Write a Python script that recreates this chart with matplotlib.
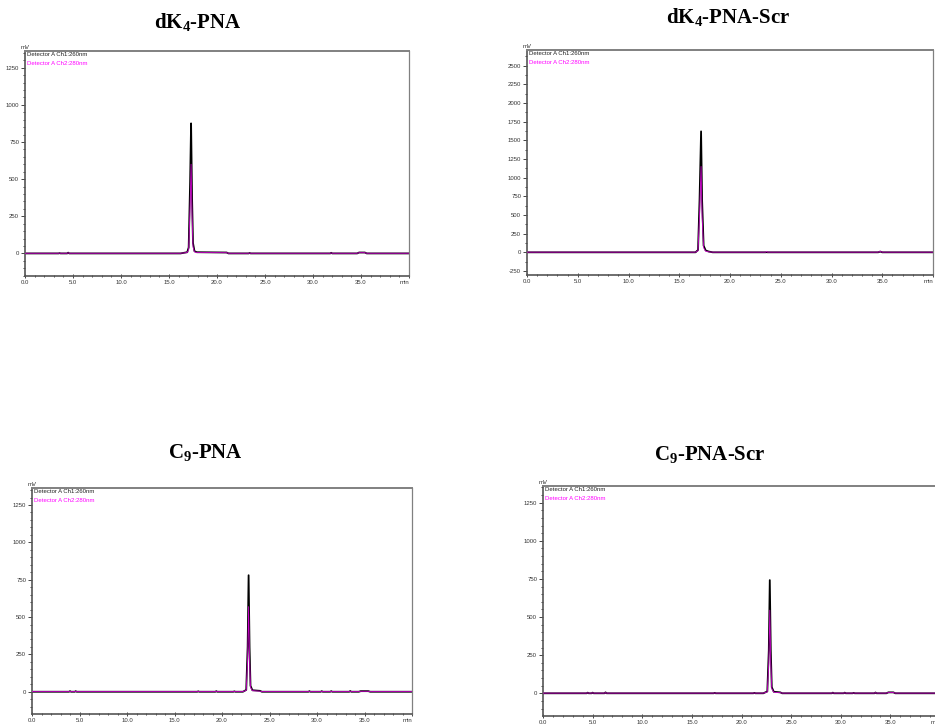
import numpy as np
import matplotlib
matplotlib.use("Agg")
import matplotlib.pyplot as plt
from matplotlib.ticker import MultipleLocator, FixedLocator, FixedFormatter

plt.rcParams['font.family'] = ['Liberation Sans', 'DejaVu Sans']

# ─── Data (time in min, signal in mV) ────────────────────────────────────────
titles = ["dK$_\\mathdefault{4}$-PNA", "dK$_\\mathdefault{4}$-PNA-Scr",
          "C$_\\mathdefault{9}$-PNA", "C$_\\mathdefault{9}$-PNA-Scr"]

# dK4-PNA
t_a   = [0, 3.5, 3.6, 3.7, 4.4, 4.5, 4.6, 16.2, 16.9, 17.05, 17.2, 17.3, 17.4, 17.5, 17.65, 17.9,
         21.0, 21.2, 23.3, 23.4, 23.5, 31.8, 31.9, 32.0, 34.6, 34.8, 35.4, 35.6, 40]
ch1_a = [0, 0, 2, 0, 0, 5, 0, 0, 8, 40, 480, 875, 380, 70, 15, 8,
         6, 0, 0, 3, 0, 0, 4, 0, 0, 6, 6, 0, 0]
ch2_a = [1, 1, 2, 1, 1, 4, 1, 1, 6, 25, 320, 600, 260, 45, 10, 6,
         5, 1, 1, 2, 1, 1, 3, 1, 1, 5, 5, 1, 1]

# dK4-PNA-Scr
t_b   = [0, 16.6, 16.85, 17.0, 17.15, 17.25, 17.4, 17.6, 17.9, 18.3, 23.5, 23.6, 23.7,
         34.6, 34.8, 35.0, 40]
ch1_b = [0, 0, 30, 700, 1620, 700, 90, 25, 10, 0, 0, 2, 0,
         0, 10, 0, 0]
ch2_b = [2, 2, 20, 500, 1150, 480, 60, 15, 6, 2, 2, 12, 2,
         2, 12, 2, 2]

# C9-PNA
t_c   = [0, 3.9, 4.0, 4.1, 4.5, 4.6, 4.7, 17.4, 17.5, 17.6, 19.3, 19.4, 19.5, 21.2, 21.3, 21.4,
         22.2, 22.55, 22.7, 22.8, 22.9, 23.0, 23.2, 24.0, 24.2, 29.1, 29.2, 29.3, 30.4, 30.5, 30.6,
         31.4, 31.5, 31.6, 33.4, 33.5, 33.6, 34.4, 34.6, 35.4, 35.6, 40]
ch1_c = [0, 0, 4, 0, 0, 4, 0, 0, 3, 0, 0, 4, 0, 0, 3, 0,
         0, 12, 300, 780, 300, 40, 10, 6, 0, 0, 4, 0, 0, 4, 0,
         0, 4, 0, 0, 5, 0, 0, 4, 4, 0, 0]
ch2_c = [1, 1, 3, 1, 1, 3, 1, 1, 2, 1, 1, 3, 1, 1, 2, 1,
         1, 9, 220, 570, 220, 30, 7, 4, 1, 1, 3, 1, 1, 3, 1,
         1, 3, 1, 1, 4, 1, 1, 3, 3, 1, 1]

# C9-PNA-Scr
t_d   = [0, 4.4, 4.5, 4.6, 4.9, 5.0, 5.1, 6.2, 6.3, 6.4, 17.2, 17.3, 17.4, 21.2, 21.3, 21.4,
         22.2, 22.6, 22.75, 22.85, 22.95, 23.05, 23.25, 23.9, 24.1, 29.1, 29.2, 29.3, 30.3, 30.4, 30.5,
         31.2, 31.3, 31.4, 33.4, 33.5, 33.6, 34.6, 34.8, 35.3, 35.5, 40]
ch1_d = [0, 0, 4, 0, 0, 4, 0, 0, 6, 0, 0, 3, 0, 0, 3, 0,
         0, 12, 280, 742, 280, 40, 10, 6, 0, 0, 4, 0, 0, 4, 0,
         0, 3, 0, 0, 5, 0, 0, 6, 6, 0, 0]
ch2_d = [1, 1, 3, 1, 1, 3, 1, 1, 4, 1, 1, 2, 1, 1, 2, 1,
         1, 9, 200, 545, 200, 30, 7, 4, 1, 1, 3, 1, 1, 3, 1,
         1, 2, 1, 1, 4, 1, 1, 5, 5, 1, 1]

legend_1 = "Detector A Ch1:260nm"
legend_2 = "Detector A Ch2:280nm"
x_ticks = [0, 5, 10, 15, 20, 25, 30, 35, 40]
x_labels = ["0.0", "5.0", "10.0", "15.0", "20.0", "25.0", "30.0", "35.0", "min"]

W, H = 935, 728
fig = plt.figure(figsize=(W / 100, H / 100), dpi=100)


def px_rect(left, top, right, bottom):
    return [left / W, 1 - bottom / H, (right - left) / W, (bottom - top) / H]


def draw_panel(rect, title, title_xy, t, ch1, ch2, ylim, yticks, yminor):
    ax = fig.add_axes(px_rect(*rect))
    ax.plot(t, ch1, color='black', lw=1.3, zorder=2)
    ax.plot(t, ch2, color='#ff00ff', lw=0.6, alpha=0.8, zorder=3)
    ax.set_xlim(0, 40)
    ax.set_ylim(*ylim)

    ax.xaxis.set_major_locator(FixedLocator(x_ticks))
    ax.xaxis.set_major_formatter(FixedFormatter(x_labels))
    ax.xaxis.set_minor_locator(MultipleLocator(1.0))
    ax.yaxis.set_major_locator(FixedLocator(yticks))
    ax.set_yticklabels([str(v) for v in yticks])
    ax.yaxis.set_minor_locator(MultipleLocator(yminor))

    for s in ax.spines.values():
        s.set_color('#808080')
        s.set_linewidth(0.9)
    ax.spines['left'].set_color('#555555')
    ax.spines['bottom'].set_color('#555555')
    ax.spines['left'].set_linewidth(1.2)
    ax.spines['bottom'].set_linewidth(1.2)
    ax.spines['top'].set_linewidth(1.4)

    ax.tick_params(which='major', length=3, width=0.7, color='#444444',
                   labelsize=4.3, pad=1.2, labelcolor='#333333')
    ax.tick_params(which='minor', length=1.6, width=0.7, color='#444444')
    ax.tick_params(axis='x', which='both', direction='inout')
    # the "min" unit label sits flush with the right end of the axis
    ax.get_xticklabels()[-1].set_horizontalalignment('right')

    ax.text(0.004, 0.995, legend_1, transform=ax.transAxes, fontsize=4.3,
            color='#222222', va='top', ha='left')
    ax.text(0.004, 0.955, legend_2, transform=ax.transAxes, fontsize=4.3,
            color='#ff00ff', va='top', ha='left')
    ax.text(0.0, 1.003, "mV", transform=ax.transAxes, fontsize=4.3,
            color='#333333', va='bottom', ha='center')

    fig.text(title_xy[0] / W, 1 - title_xy[1] / H, title, family='Liberation Serif',
             weight='bold', fontsize=15, ha='center', va='center')
    return ax


yt_small = [0, 250, 500, 750, 1000, 1250]
yt_big = [-250, 0, 250, 500, 750, 1000, 1250, 1500, 1750, 2000, 2250, 2500]

draw_panel((25, 51, 409, 276), titles[0], (198, 23), t_a, ch1_a, ch2_a,
           (-152, 1362), yt_small, 50)
draw_panel((527, 50, 933, 275), titles[1], (728, 18), t_b, ch1_b, ch2_b,
           (-304, 2710), yt_big, 125)
draw_panel((32, 488, 412, 714), titles[2], (205, 453), t_c, ch1_c, ch2_c,
           (-149, 1364), yt_small, 50)
draw_panel((543, 486, 940, 716), titles[3], (710, 455), t_d, ch1_d, ch2_d,
           (-149, 1359), yt_small, 50)

fig.savefig("out.png", dpi=100)
